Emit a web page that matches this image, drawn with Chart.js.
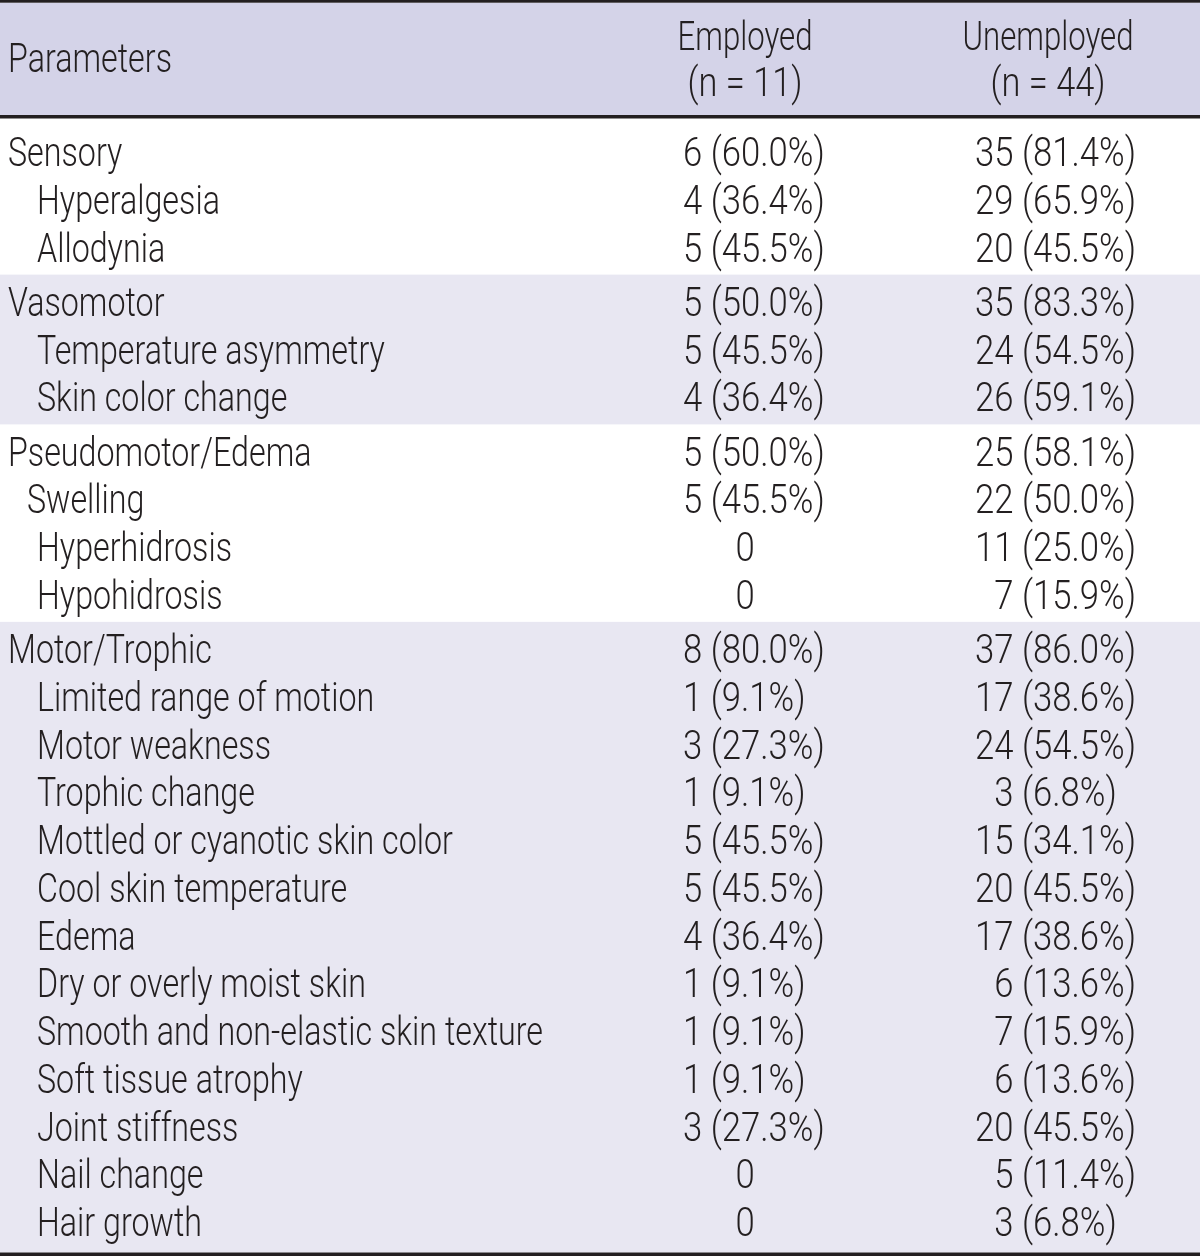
<!DOCTYPE html>
<html><head><meta charset="utf-8">
<script src="https://cdn.jsdelivr.net/npm/chart.js@4.4.1/dist/chart.umd.min.js"></script>
<style>html,body{margin:0;padding:0;background:#fff;overflow:hidden}</style>
</head><body>
<canvas id="c" width="1200" height="1257"></canvas>
<script>
// ---- data ----
const headerParam = 'Parameters';
const groups = ['Employed', 'Unemployed'];
const groupN = ['(n = 11)', '(n = 44)'];
const rowLabels = ['Sensory','Hyperalgesia','Allodynia','Vasomotor','Temperature asymmetry','Skin color change',
  'Pseudomotor/Edema','Swelling','Hyperhidrosis','Hypohidrosis','Motor/Trophic','Limited range of motion',
  'Motor weakness','Trophic change','Mottled or cyanotic skin color','Cool skin temperature','Edema',
  'Dry or overly moist skin','Smooth and non-elastic skin texture','Soft tissue atrophy','Joint stiffness',
  'Nail change','Hair growth'];
const rowSection = [0,0,0,1,1,1,2,2,2,2,3,3,3,3,3,3,3,3,3,3,3,3,3];
const rowLevel   = [0,2,2,0,2,2,0,1,2,2,0,2,2,2,2,2,2,2,2,2,2,2,2];
const employedCount = [6,4,5,5,5,4,5,5,0,0,8,1,3,1,5,5,4,1,1,1,3,0,0];
const employedPct = [60.0,36.4,45.5,50.0,45.5,36.4,50.0,45.5,null,null,80.0,9.1,27.3,9.1,45.5,45.5,36.4,9.1,9.1,9.1,27.3,null,null];
const unemployedCount = [35,29,20,35,24,26,25,22,11,7,37,17,24,3,15,20,17,6,7,6,20,5,3];
const unemployedPct = [81.4,65.9,45.5,83.3,54.5,59.1,58.1,50.0,25.0,15.9,86.0,38.6,54.5,6.8,34.1,45.5,38.6,13.6,15.9,13.6,45.5,11.4,6.8];

// ---- layout (style, not data) ----
const W = 1200, H = 1257;
const PITCH = 47.75, SEC_GAP = 6.5, FIRST_BASE = 166;
const INDENT = [8, 27, 37];
const X_EMP_LEFT = 683, X_EMP_CENTER = 745, X_UNEMP_LEFT = 975, X_UNEMP_CENTER = 1048;
const INK = '#231f20', HEAD_BG = '#d4d3e8', SHADE_BG = '#e8e7f2';
const FONT = '300 40px Roboto, "Liberation Sans", Arial, sans-serif';

function fmt(c, p) { return p == null ? String(c) : c + ' (' + p.toFixed(1) + '%)'; }
const rowBase = rowLabels.map((_, i) => FIRST_BASE + i * PITCH + rowSection[i] * SEC_GAP);

const labelPts = rowLabels.map((_, i) => ({x: INDENT[rowLevel[i]], y: rowBase[i]}));
const empPts = rowLabels.map((_, i) => ({x: employedPct[i] == null ? X_EMP_CENTER : X_EMP_LEFT, y: rowBase[i]}));
const unPts = rowLabels.map((_, i) => ({x: X_UNEMP_LEFT, y: rowBase[i]}));
const empText = employedCount.map((c, i) => fmt(c, employedPct[i]));
const unText = unemployedCount.map((c, i) => fmt(c, unemployedPct[i]));

function txt(ctx, s, x, y, align, sx) {
  const w = ctx.measureText(s).width * sx;
  const x0 = align === 'center' ? x - w / 2 : x;
  ctx.save(); ctx.translate(x0, y); ctx.scale(sx, 1);
  ctx.textAlign = 'left'; ctx.textBaseline = 'alphabetic'; ctx.fillText(s, 0, 0); ctx.restore();
}

const tablePlugin = {
  id: 'table',
  beforeDatasetsDraw(chart) {
    const {ctx, scales: {x, y}} = chart;
    const X0 = x.getPixelForValue(0), X1 = x.getPixelForValue(W);
    const py = v => y.getPixelForValue(v);
    ctx.save();
    ctx.fillStyle = '#ffffff'; ctx.fillRect(X0, py(0), X1 - X0, py(H) - py(0));
    ctx.fillStyle = HEAD_BG; ctx.fillRect(X0, py(2.7), X1 - X0, py(115) - py(2.7));
    const nSec = Math.max(...rowSection) + 1;
    for (let s = 0; s < nSec; s++) {
      const idx = rowSection.map((v, i) => v === s ? i : -1).filter(i => i >= 0);
      const first = idx[0], last = idx[idx.length - 1];
      const top = s === 0 ? 118.5 : (rowBase[first - 1] + rowBase[first]) / 2 - 14;
      const bot = s === nSec - 1 ? 1252.5 : (rowBase[last] + rowBase[last + 1]) / 2 - 14;
      if (s % 2 === 1) { ctx.fillStyle = SHADE_BG; ctx.fillRect(X0, py(top), X1 - X0, py(bot) - py(top)); }
    }
    ctx.fillStyle = INK;
    ctx.fillRect(X0, py(0), X1 - X0, py(2.7) - py(0));
    ctx.fillRect(X0, py(115), X1 - X0, py(118.5) - py(115));
    ctx.fillRect(X0, py(1252.5), X1 - X0, py(1256) - py(1252.5));
    ctx.restore();
  },
  afterDatasetsDraw(chart) {
    const {ctx, scales: {y}} = chart;
    ctx.save();
    ctx.font = FONT; ctx.fillStyle = INK;
    const SX = 506 / ctx.measureText('Smooth and non-elastic skin texture').width;
    const SXN = 161 / ctx.measureText('35 (81.4%)').width;
    const SXH = 135 / ctx.measureText('Employed').width;
    const SXP = 115 / ctx.measureText('(n = 11)').width;
    const digitW = ctx.measureText('0').width * SXN;
    txt(ctx, headerParam, 8, y.getPixelForValue(72), 'left', SX);
    txt(ctx, groups[0], X_EMP_CENTER, y.getPixelForValue(50), 'center', SXH);
    txt(ctx, groupN[0], X_EMP_CENTER, y.getPixelForValue(96), 'center', SXP);
    txt(ctx, groups[1], X_UNEMP_CENTER, y.getPixelForValue(50), 'center', SXH);
    txt(ctx, groupN[1], X_UNEMP_CENTER, y.getPixelForValue(96), 'center', SXP);
    const m0 = chart.getDatasetMeta(0).data, m1 = chart.getDatasetMeta(1).data, m2 = chart.getDatasetMeta(2).data;
    rowLabels.forEach((lab, i) => {
      txt(ctx, lab, m0[i].x, m0[i].y, 'left', SX);
      txt(ctx, empText[i], m1[i].x, m1[i].y, employedPct[i] == null ? 'center' : 'left', SXN);
      txt(ctx, unText[i], m2[i].x + (unemployedCount[i] < 10 ? digitW : 0), m2[i].y, 'left', SXN);
    });
    ctx.restore();
  }
};

new Chart(document.getElementById('c'), {
  type: 'scatter',
  data: { datasets: [
    {label: headerParam, data: labelPts, pointRadius: 0},
    {label: groups[0], data: empPts, pointRadius: 0},
    {label: groups[1], data: unPts, pointRadius: 0}
  ]},
  options: {
    responsive: false, animation: false, devicePixelRatio: 1,
    layout: {padding: 0},
    plugins: {legend: {display: false}, tooltip: {enabled: false}, title: {display: false}},
    events: [],
    scales: {
      x: {type: 'linear', min: 0, max: W, display: false},
      y: {type: 'linear', min: 0, max: H, reverse: true, display: false}
    }
  },
  plugins: [tablePlugin]
});
</script>
</body></html>
